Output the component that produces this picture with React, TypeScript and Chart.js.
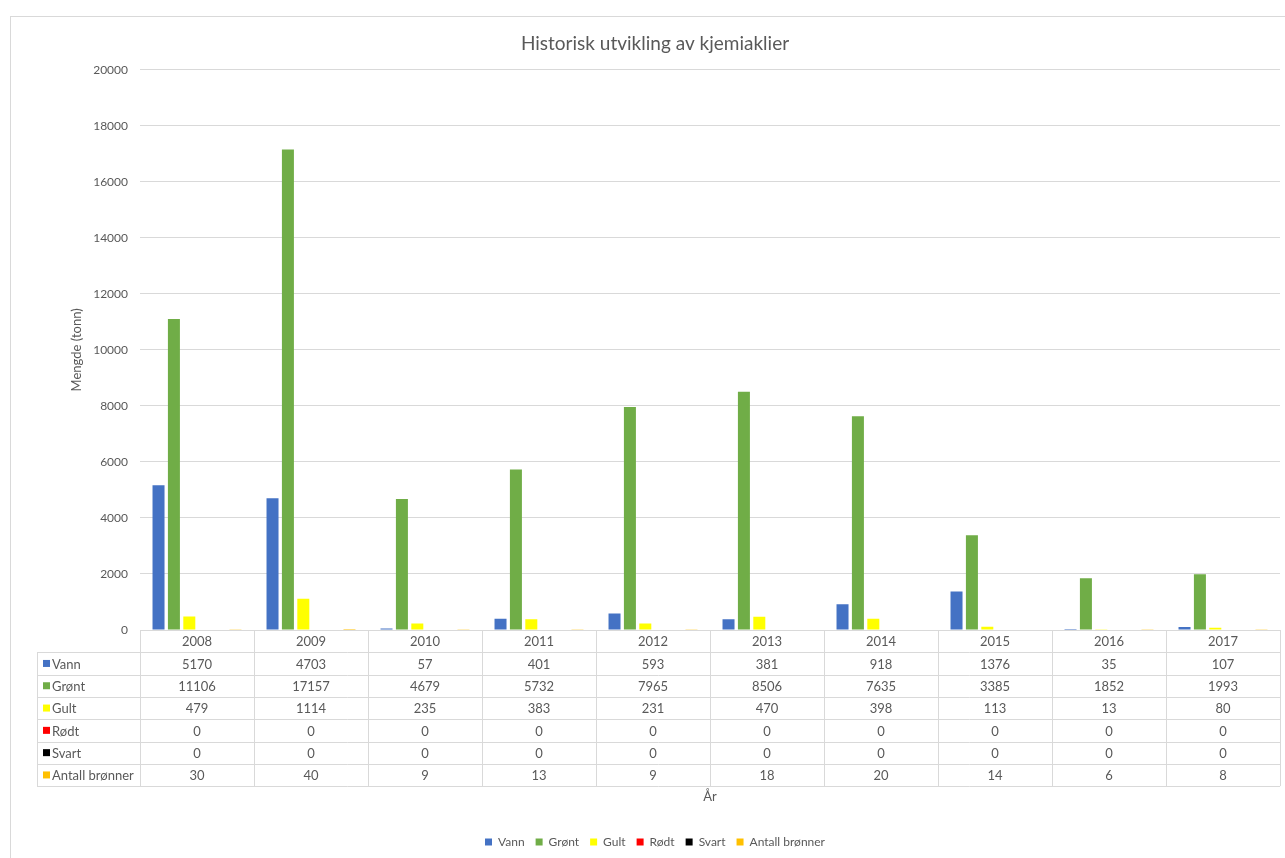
import React, { useEffect, useRef } from 'react';
import { Chart, registerables } from 'chart.js';

Chart.register(...registerables);

const years = ['2008', '2009', '2010', '2011', '2012', '2013', '2014', '2015', '2016', '2017'];
const vann = [5170, 4703, 57, 401, 593, 381, 918, 1376, 35, 107];
const gront = [11106, 17157, 4679, 5732, 7965, 8506, 7635, 3385, 1852, 1993];
const gult = [479, 1114, 235, 383, 231, 470, 398, 113, 13, 80];
const rodt = [0, 0, 0, 0, 0, 0, 0, 0, 0, 0];
const svart = [0, 0, 0, 0, 0, 0, 0, 0, 0, 0];
const antallBronner = [30, 40, 9, 13, 9, 18, 20, 14, 6, 8];

const seriesNames = ['Vann', 'Grønt', 'Gult', 'Rødt', 'Svart', 'Antall brønner'];
const seriesValues = [vann, gront, gult, rodt, svart, antallBronner];
const seriesColors = ['#4472C4', '#70AD47', '#FFFF00', '#FF0000', '#000000', '#FFC000'];

const chartTitle = 'Historisk utvikling av kjemiaklier';
const yTitle = 'Mengde (tonn)';
const xTitle = 'År';
const yMin = 0;
const yMax = 20000;
const yStep = 2000;

const FONT = 'Lato, "Open Sans", sans-serif';
const TEXT = '#595959';
const LINE = '#d9d9d9';

const TABLE_ROW_H = 22.3;
const TABLE_LABEL_LEFT = 37;

const framePlugin = {
  id: 'frame',
  beforeDraw(chart: any) {
    const { ctx, width, height } = chart;
    ctx.save();
    ctx.fillStyle = '#ffffff';
    ctx.fillRect(0, 0, width, height);
    ctx.strokeStyle = LINE;
    ctx.lineWidth = 1;
    ctx.strokeRect(10.5, 16.5, width + 20, height + 20);
    ctx.restore();
  },
};

const dataTablePlugin = {
  id: 'dataTable',
  afterDraw(chart: any) {
    const { ctx } = chart;
    const x = chart.scales.x;
    const top = chart.chartArea.bottom;
    const left = x.left;
    const right = x.right;
    const n = chart.data.labels.length;
    const colW = (right - left) / n;
    const rows = chart.data.datasets.length + 1;
    const bottom = top + rows * TABLE_ROW_H;
    ctx.save();
    ctx.strokeStyle = LINE;
    ctx.lineWidth = 1;
    ctx.beginPath();
    for (let r = 0; r <= rows; r++) {
      const y = Math.round(top + r * TABLE_ROW_H) + 0.5;
      ctx.moveTo(r === 0 ? left : TABLE_LABEL_LEFT, y);
      ctx.lineTo(right, y);
    }
    for (let k = 0; k <= n; k++) {
      const xx = Math.round(left + k * colW) + 0.5;
      ctx.moveTo(xx, top);
      ctx.lineTo(xx, bottom);
    }
    const ly = Math.round(top + TABLE_ROW_H) + 0.5;
    ctx.moveTo(TABLE_LABEL_LEFT + 0.5, ly);
    ctx.lineTo(TABLE_LABEL_LEFT + 0.5, Math.round(bottom) + 0.5);
    ctx.stroke();

    ctx.font = `13px ${FONT}`;
    ctx.fillStyle = TEXT;
    ctx.textBaseline = 'middle';
    ctx.textAlign = 'center';
    chart.data.labels.forEach((lab: string, i: number) => {
      const cx = x.getPixelForValue(i);
      ctx.fillText(lab, cx, top + TABLE_ROW_H / 2 + 1);
    });
    chart.data.datasets.forEach((ds: any, r: number) => {
      const cy = top + (r + 1) * TABLE_ROW_H + TABLE_ROW_H / 2 + 1;
      ctx.textAlign = 'center';
      ctx.fillStyle = TEXT;
      ds.data.forEach((v: number, i: number) => {
        ctx.fillText(String(v), x.getPixelForValue(i), cy);
      });
      ctx.fillStyle = ds.backgroundColor;
      ctx.fillRect(TABLE_LABEL_LEFT + 6, cy - 4.5, 7, 7);
      ctx.fillStyle = TEXT;
      ctx.textAlign = 'left';
      ctx.fillText(ds.label, TABLE_LABEL_LEFT + 15, cy);
    });
    ctx.restore();
  },
};

export default function App() {
  const canvasRef = useRef<HTMLCanvasElement | null>(null);

  useEffect(() => {
    if (!canvasRef.current) return;
    const chart = new Chart(canvasRef.current, {
      type: 'bar',
      data: {
        labels: years,
        datasets: seriesNames.map((name, i) => ({
          label: name,
          data: seriesValues[i],
          backgroundColor: seriesColors[i],
          borderColor: seriesColors[i],
          borderWidth: 0,
          categoryPercentage: 0.81,
          barPercentage: 0.78,
        })),
      },
      options: {
        animation: false,
        responsive: true,
        maintainAspectRatio: false,
        layout: { padding: { left: 30, right: 5, top: 22, bottom: 0 } },
        plugins: {
          title: {
            display: true,
            text: chartTitle,
            color: TEXT,
            font: { family: FONT, size: 19, weight: 'normal' },
            padding: { top: 10, bottom: 15 },
          },
          legend: {
            position: 'bottom',
            labels: {
              color: TEXT,
              font: { family: FONT, size: 12 },
              usePointStyle: true,
              pointStyle: 'rect',
              boxWidth: 7,
              boxHeight: 7,
              padding: 11,
            },
          },
          tooltip: { enabled: false },
        },
        scales: {
          x: {
            grid: { display: false },
            border: { display: false },
            ticks: { display: false },
            title: {
              display: true,
              text: xTitle,
              color: TEXT,
              font: { family: FONT, size: 13 },
              padding: { top: 0, bottom: 20 },
            },
            afterFit(axis: any) {
              axis.height = 195;
            },
          },
          y: {
            min: yMin,
            max: yMax,
            ticks: {
              stepSize: yStep,
              color: TEXT,
              font: { family: FONT, size: 12 },
              padding: 12,
              callback: (v: any) => String(v),
            },
            grid: { color: LINE, drawTicks: false },
            border: { display: false },
            title: {
              display: true,
              text: yTitle,
              color: TEXT,
              font: { family: FONT, size: 13 },
              padding: { top: 39, bottom: 0 },
            },
            afterFit(axis: any) {
              axis.width = 110;
            },
          },
        },
      },
      plugins: [framePlugin, dataTablePlugin],
    });
    return () => chart.destroy();
  }, []);

  return (
    <div style={{ position: 'fixed', left: 0, top: 0, width: 1285, height: 858, background: '#fff' }}>
      <canvas ref={canvasRef} />
    </div>
  );
}
